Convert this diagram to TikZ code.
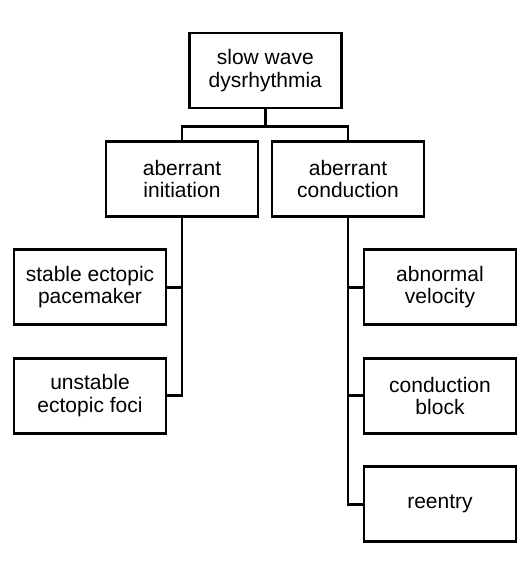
\documentclass[tikz,border=0pt]{standalone}
\usepackage{fontspec}
\setmainfont{Liberation Sans}
\begin{document}
\begin{tikzpicture}[x=1pt,y=-1pt,
  box/.style={draw=black,line width=2.8pt,rectangle,minimum width=152pt,minimum height=75pt,inner sep=0pt,align=center,font=\fontsize{21}{22.5}\selectfont},
  conn/.style={draw=black,line width=2.8pt,line join=miter}]
\useasboundingbox (0,0) rectangle (531,581);
\node[box] (top) at (265.3,70.4) {slow wave\\dysrhythmia};
\node[box] (li) at (182,179) {aberrant\\initiation};
\node[box] (ri) at (348,179) {aberrant\\conduction};
\node[box] (sep) at (90,287.3) {stable ectopic\\pacemaker};
\node[box] (uef) at (90,395.8) {unstable\\ectopic foci};
\node[box] (av) at (440,287.3) {abnormal\\velocity};
\node[box] (cb) at (440,395.8) {conduction\\block};
\node[box] (re) at (440,504.2) {reentry};
\coordinate (bus) at (265.3,126.7);
\draw[conn] (top.south) -- (bus);
\draw[conn] (li.north) |- (bus) -| (ri.north);
\draw[conn] (li.south) |- (sep.east);
\draw[conn] (li.south) |- (uef.east);
\draw[conn] (ri.south) |- (av.west);
\draw[conn] (ri.south) |- (cb.west);
\draw[conn] (ri.south) |- (re.west);
\end{tikzpicture}
\end{document}
